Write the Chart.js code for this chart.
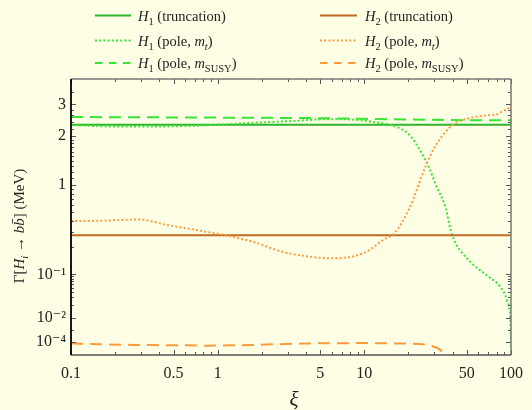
<!DOCTYPE html>
<html><head><meta charset="utf-8">
<script src="https://cdn.jsdelivr.net/npm/chart.js@4"></script>
<style>html,body{margin:0;padding:0;background:#ffffe6;}canvas{display:block}</style>
</head><body>
<canvas id="c" width="532" height="410"></canvas>
<script>
// ---------- data ----------
const xiTrunc = [0.1, 100];
const h1Trunc = [2.31, 2.31];
const h2Trunc = [0.273, 0.273];

const xiH1Mt = [0.1, 0.2, 0.4, 1, 2, 3.2, 5.6, 8, 12.1, 15.7, 20.3, 25.0, 27.7, 30.8, 35.9, 38.8, 42.0, 49.0, 57.3, 70.5, 84.4, 93.7, 98.6, 99.5, 100];
const h1Mt   = [2.30, 2.26, 2.26, 2.31, 2.38, 2.42, 2.48, 2.47, 2.38, 2.28, 2.03, 1.53, 1.27, 1.0, 0.548, 0.313, 0.222, 0.157, 0.122, 0.088, 0.052, 0.026, 0.0109, 0.001, 0.000005];

const xiH1Susy = [0.1, 1, 5.6, 10, 20, 50, 100];
const h1Susy   = [2.55, 2.53, 2.51, 2.49, 2.47, 2.45, 2.45];

const xiH2Mt = [0.1, 0.16, 0.29, 0.45, 0.76, 1.2, 1.73, 2.76, 3.96, 6.0, 9.9, 13.7, 16.0, 20.3, 26.4, 30.8, 39.9, 51.6, 66.8, 80.2, 86.7, 100];
const h2Mt   = [0.395, 0.398, 0.411, 0.357, 0.308, 0.268, 0.232, 0.179, 0.160, 0.151, 0.173, 0.247, 0.288, 0.548, 1.33, 1.76, 2.30, 2.51, 2.60, 2.64, 2.73, 2.90];

const xiH2Susy = [0.1, 0.155, 0.22, 0.31, 0.44, 0.63, 0.87, 1.24, 1.77, 2.46, 3.48, 4.98, 7.0, 9.8, 14.1, 20.1, 27.2, 35, 37];
const h2Susy   = [5.7e-5, 4.1e-5, 3.5e-5, 3.2e-5, 2.9e-5, 2.9e-5, 2.5e-5, 2.9e-5, 3.2e-5, 4.1e-5, 5.0e-5, 5.7e-5, 5.7e-5, 6.3e-5, 5.7e-5, 5.0e-5, 2.9e-5, 1.4e-6, 1e-7];

const seriesNames = ['H₁ (truncation)', 'H₁ (pole, mₜ)', 'H₁ (pole, m_SUSY)', 'H₂ (truncation)', 'H₂ (pole, mₜ)', 'H₂ (pole, m_SUSY)'];

const xTickValues = [0.1, 0.5, 1, 5, 10, 50, 100];
const xTickLabels = ['0.1', '0.5', '1', '5', '10', '50', '100'];
const xMinorTicks = [0.2,0.3,0.4,0.6,0.7,0.8,0.9,2,3,4,6,7,8,9,20,30,40,60,70,80,90];
const yTickValues = [1e-4, 1e-2, 1e-1, 1, 2, 3];
const yTickLabels = ['10⁻⁴', '10⁻²', '10⁻¹', '1', '2', '3'];
const yMinorTicks = [1e-3, 0.02,0.03,0.04,0.05,0.06,0.07,0.08,0.09,0.2,0.3,0.4,0.5,0.6,0.7,0.8,0.9,
  1.1,1.2,1.3,1.4,1.5,1.6,1.7,1.8,1.9,2.2,2.4,2.6,2.8,3.5];

// ---------- custom warped log-like scale ----------
const anchorsLog  = [-6, -4, -2, -1, 0, Math.log10(2), Math.log10(3), Math.log10(4.1)];
const anchorsFrac = [0, 0.0482, 0.1330, 0.2924, 0.6159, 0.7935, 0.9083, 1];
function interp(v, A, F){
  if (v <= A[0]) return F[0] + (v - A[0]) * (F[1]-F[0])/(A[1]-A[0]);
  for (let i = 1; i < A.length; i++) if (v <= A[i]) return F[i-1] + (v - A[i-1]) * (F[i]-F[i-1])/(A[i]-A[i-1]);
  const n = A.length - 1;
  return F[n] + (v - A[n]) * (F[n]-F[n-1])/(A[n]-A[n-1]);
}
function warp(v){ if (!(v > 0)) return -1; return interp(Math.log10(v), anchorsLog, anchorsFrac); }
function unwarp(f){ return Math.pow(10, interp(f, anchorsFrac, anchorsLog)); }

class WarpScale extends Chart.LinearScale {
  getPixelForValue(value){ return value == null ? NaN : this.getPixelForDecimal(warp(value)); }
  getValueForPixel(pixel){ return unwarp(this.getDecimalForPixel(pixel)); }
}
WarpScale.id = 'warp';
WarpScale.defaults = {};
Chart.register(WarpScale);

// ---------- styles ----------
const BG = '#ffffe6';
const G_SOLID = '#2cb52c', G_LIGHT = '#35e635';
const O_SOLID = '#bf6a22', O_LIGHT = '#ff9a3c';
const DOT = [2, 2.2], DASH = [12, 7], LEG_DASH = [7.5, 6.5];
const SERIF = '"Liberation Serif", "DejaVu Serif", serif';

function mk(label, xs, ys, color, dash){
  return { label, data: xs.map((x, i) => ({ x, y: ys[i] })), borderColor: color, backgroundColor: color,
    borderWidth: 2, borderDash: dash, borderCapStyle: 'butt', pointRadius: 0, fill: false,
    cubicInterpolationMode: 'monotone' };
}
const datasets = [
  mk(seriesNames[5], xiH2Susy, h2Susy, O_LIGHT, DASH),
  mk(seriesNames[4], xiH2Mt, h2Mt, O_LIGHT, DOT),
  mk(seriesNames[3], xiTrunc, h2Trunc, O_SOLID, []),
  mk(seriesNames[2], xiH1Susy, h1Susy, G_LIGHT, DASH),
  mk(seriesNames[1], xiH1Mt, h1Mt, G_LIGHT, DOT),
  mk(seriesNames[0], xiTrunc, h1Trunc, G_SOLID, []),
];

// ---------- text run helper ----------
function font(sz, it){ return (it ? 'italic ' : '') + sz + 'px ' + SERIF; }
function drawRuns(ctx, runs, x, y, align){
  let w = 0;
  runs.forEach(r => { ctx.font = font(r.s || 14.5, r.i); r.w = ctx.measureText(r.t).width; w += r.w; });
  let cx = align === 'center' ? x - w/2 : x;
  ctx.textBaseline = 'alphabetic'; ctx.textAlign = 'left';
  runs.forEach(r => { ctx.font = font(r.s || 14.5, r.i); ctx.fillText(r.t, cx, y + (r.dy || 0)); cx += r.w; });
}
const sub = (t, it) => ({ t, s: 10.5, i: it, dy: 4 });
const legendRuns = [
  [{t:'H',i:true}, sub('1'), {t:' (truncation)'}],
  [{t:'H',i:true}, sub('1'), {t:' (pole, '}, {t:'m',i:true}, sub('t',true), {t:')'}],
  [{t:'H',i:true}, sub('1'), {t:' (pole, '}, {t:'m',i:true}, sub('SUSY'), {t:')'}],
  [{t:'H',i:true}, sub('2'), {t:' (truncation)'}],
  [{t:'H',i:true}, sub('2'), {t:' (pole, '}, {t:'m',i:true}, sub('t',true), {t:')'}],
  [{t:'H',i:true}, sub('2'), {t:' (pole, '}, {t:'m',i:true}, sub('SUSY'), {t:')'}],
];
const legendStyle = [[G_SOLID, []],[G_LIGHT, DOT],[G_LIGHT, LEG_DASH],[O_SOLID, []],[O_LIGHT, DOT],[O_LIGHT, LEG_DASH]];

const decor = {
  id: 'decor',
  beforeDraw(chart){
    const c = chart.ctx; c.save(); c.fillStyle = BG; c.fillRect(0, 0, chart.width, chart.height); c.restore();
  },
  afterDatasetsDraw(chart){
    const { ctx, chartArea: a, scales: { x, y } } = chart;
    ctx.save();
    ctx.strokeStyle = '#555'; ctx.lineWidth = 1; ctx.setLineDash([]);
    const line = (x1, y1, x2, y2) => { ctx.beginPath(); ctx.moveTo(x1, y1); ctx.lineTo(x2, y2); ctx.stroke(); };
    xTickValues.forEach(v => { const p = Math.round(x.getPixelForValue(v)) + 0.5; line(p, a.bottom, p, a.bottom - 5); line(p, a.top, p, a.top + 5); });
    xMinorTicks.forEach(v => { const p = Math.round(x.getPixelForValue(v)) + 0.5; line(p, a.bottom, p, a.bottom - 3); line(p, a.top, p, a.top + 3); });
    yTickValues.forEach(v => { const p = Math.round(y.getPixelForValue(v)) + 0.5; line(a.left, p, a.left + 5, p); line(a.right, p, a.right - 5, p); });
    yMinorTicks.forEach(v => { const p = Math.round(y.getPixelForValue(v)) + 0.5; line(a.left, p, a.left + 3, p); line(a.right, p, a.right - 3, p); });
    ctx.strokeStyle = '#777'; ctx.lineWidth = 1.5;
    line(a.left, a.top, a.right, a.top);
    line(a.right, a.top, a.right, a.bottom);
    ctx.strokeStyle = '#555';
    line(a.left, a.bottom, a.right, a.bottom);
    ctx.strokeStyle = '#000'; ctx.lineWidth = 1.8;
    line(a.left, a.top, a.left, a.bottom);
    ctx.restore();
  },
  afterDraw(chart){
    const ctx = chart.ctx;
    ctx.save();
    ctx.fillStyle = '#222';
    // legend
    const cols = [[95, 131, 138], [320, 357, 365]];
    const rows = [15.5, 40.5, 63];
    for (let k = 0; k < 6; k++){
      const col = cols[Math.floor(k/3)], ry = rows[k % 3];
      ctx.strokeStyle = legendStyle[k][0]; ctx.lineWidth = 2; ctx.setLineDash(legendStyle[k][1]); ctx.lineCap = 'butt';
      ctx.beginPath(); ctx.moveTo(col[0], ry); ctx.lineTo(col[1], ry); ctx.stroke();
      ctx.setLineDash([]);
      drawRuns(ctx, legendRuns[k], col[2], ry + 5, 'left');
    }
    // x title
    ctx.font = font(21, true); ctx.textAlign = 'center'; ctx.textBaseline = 'middle';
    ctx.fillText('ξ', 294, 400);
    // y title
    ctx.translate(24, 226); ctx.rotate(-Math.PI/2);
    drawRuns(ctx, [{t:'Γ[', s:15}, {t:'H', s:15, i:true}, {t:'i', s:10.5, i:true, dy:4}, {t:' → ', s:15},
      {t:'b', s:15, i:true}, {t:'b̄', s:15, i:true}, {t:'] (MeV)', s:15}], 0, 0, 'center');
    ctx.restore();
  }
};

new Chart(document.getElementById('c'), {
  type: 'line',
  data: { datasets },
  plugins: [decor],
  options: {
    responsive: false, animation: false, devicePixelRatio: 1,
    layout: { padding: { top: 79, right: 16, left: 0, bottom: 0 } },
    plugins: { legend: { display: false }, tooltip: { enabled: false } },
    scales: {
      x: {
        type: 'logarithmic', position: 'bottom', min: 0.1, max: 100, bounds: 'data',
        grid: { display: false, drawTicks: false }, border: { display: false },
        afterBuildTicks: s => { s.ticks = xTickValues.map(v => ({ value: v })); },
        afterFit: s => { s.height = 55; },
        ticks: { autoSkip: false, maxRotation: 0, padding: 9, color: '#222',
          font: { family: SERIF, size: 16 }, callback: (v, i) => xTickLabels[i] }
      },
      y: {
        type: 'warp', position: 'left', min: 1e-6, max: 4.1, bounds: 'data',
        grid: { display: false, drawTicks: false }, border: { display: false },
        afterBuildTicks: s => { s.ticks = yTickValues.map(v => ({ value: v })); },
        afterFit: s => { s.width = 71; },
        ticks: { autoSkip: false, padding: 5, color: '#222',
          font: { family: SERIF, size: 16 }, callback: (v, i) => yTickLabels[i] }
      }
    }
  }
});
</script>
</body></html>
